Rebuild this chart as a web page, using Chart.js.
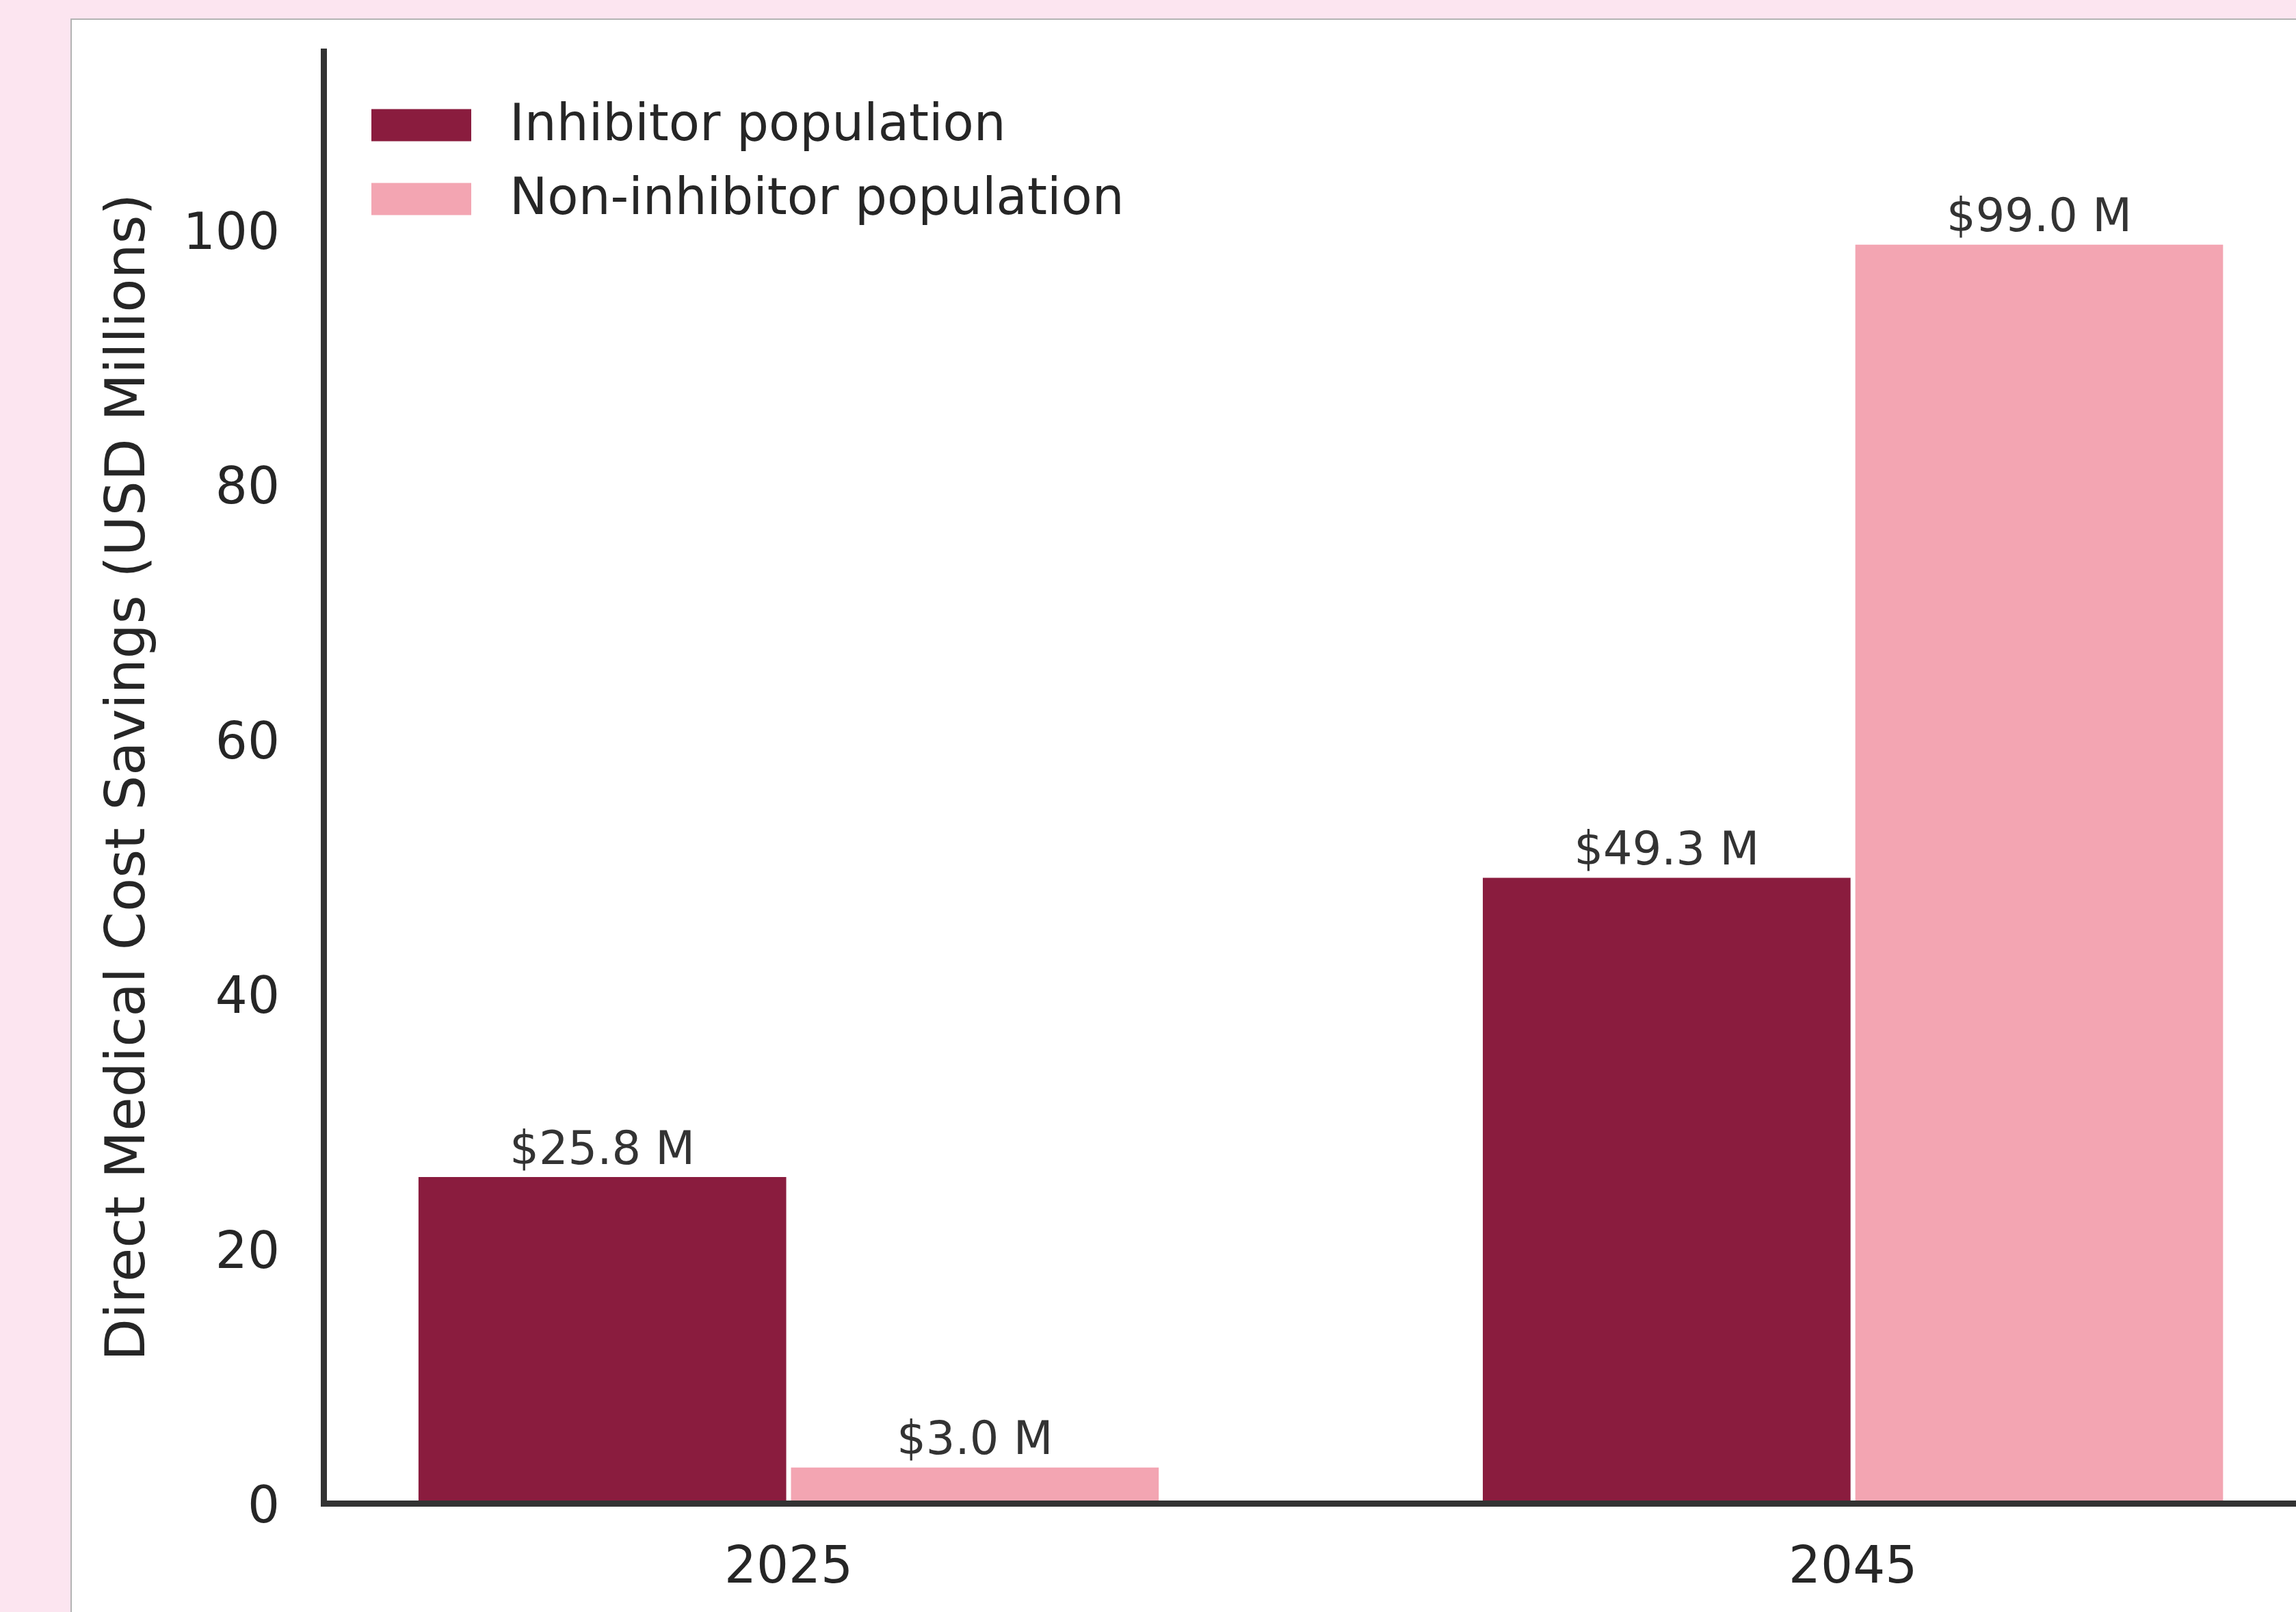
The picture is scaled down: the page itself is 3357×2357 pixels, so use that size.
<!DOCTYPE html>
<html>
<head>
<meta charset="utf-8">
<script src="https://cdn.jsdelivr.net/npm/chart.js@4/dist/chart.umd.min.js"></script>
<style>
  html, body { margin: 0; padding: 0; width: 3357px; height: 2357px; overflow: hidden; background: #fce5f0; }
  #panel { position: absolute; left: 103px; top: 27px; width: 4000px; height: 4000px; background: #ffffff; border-left: 2px solid #b3b3b3; border-top: 2px solid #b3b3b3; }
  #c { position: absolute; left: 0; top: 0; }
</style>
</head>
<body>
<div id="panel"></div>
<canvas id="c" width="3420" height="2357"></canvas>
<script>
// ---- data ----
const categories = ['2025', '2045'];
const seriesNames = ['Inhibitor population', 'Non-inhibitor population'];
const inhibitorValues = [25.8, 49.3];
const nonInhibitorValues = [3.0, 99.0];
const yTickValues = [0, 20, 40, 60, 80, 100];
const yAxisTitle = 'Direct Medical Cost Savings (USD Millions)';

// ---- styles ----
const colors = ['#8a1c3e', '#f3a5b2'];
const textColor = '#262626';
const axisColor = '#333333';
const FONT = 'DejaVu Sans';

const toPoints = (vals) => vals.map((v, i) => ({ x: i, y: v }));

const barLabelPlugin = {
  id: 'barLabels',
  afterDatasetsDraw(chart) {
    const ctx = chart.ctx;
    ctx.save();
    ctx.font = '67px "' + FONT + '"';
    ctx.fillStyle = '#333333';
    ctx.textAlign = 'center';
    ctx.textBaseline = 'alphabetic';
    chart.data.datasets.forEach((ds, di) => {
      const meta = chart.getDatasetMeta(di);
      meta.data.forEach((el, i) => {
        const v = ds.data[i].y;
        ctx.fillText('$' + v.toFixed(1) + ' M', el.x, el.y - 16);
      });
    });
    ctx.restore();
  }
};

const insideLegendPlugin = {
  id: 'insideLegend',
  afterDraw(chart) {
    const ctx = chart.ctx;
    const a = chart.chartArea;
    ctx.save();
    ctx.font = '74px "' + FONT + '"';
    ctx.textAlign = 'left';
    ctx.textBaseline = 'middle';
    chart.data.datasets.forEach((ds, i) => {
      const cy = a.top + 108 + i * 108;
      const bx = a.left + 70;
      ctx.fillStyle = ds.backgroundColor;
      ctx.fillRect(bx, cy - 23.5, 146, 47);
      ctx.fillStyle = textColor;
      ctx.fillText(ds.label, bx + 146 + 56, cy + 3);
    });
    ctx.restore();
  }
};

new Chart(document.getElementById('c'), {
  type: 'bar',
  data: {
    datasets: [
      { label: seriesNames[0], data: toPoints(inhibitorValues), backgroundColor: colors[0], borderColor: '#ffffff', borderWidth: 3.5 },
      { label: seriesNames[1], data: toPoints(nonInhibitorValues), backgroundColor: colors[1], borderColor: '#ffffff', borderWidth: 3.5 }
    ]
  },
  options: {
    responsive: false,
    animation: false,
    devicePixelRatio: 1,
    layout: { padding: { left: 142, top: 75, right: 37, bottom: 22 } },
    datasets: { bar: { categoryPercentage: 0.7, barPercentage: 1.0 } },
    plugins: { legend: { display: false }, tooltip: { enabled: false } },
    scales: {
      x: {
        type: 'linear',
        offset: false,
        min: -0.437,
        max: 1.433,
        afterBuildTicks: (scale) => { scale.ticks = categories.map((c, i) => ({ value: i })); },
        afterFit: (scale) => { scale.height = 137; scale.paddingLeft = 0; scale.paddingRight = 0; },
        grid: { display: false, drawTicks: false, offset: false },
        border: { display: true, color: axisColor, width: 9, z: 1 },
        ticks: {
          autoSkip: false, maxRotation: 0, padding: 52, color: textColor,
          font: { family: FONT, size: 74 },
          callback: (v, idx) => categories[idx]
        }
      },
      y: {
        type: 'linear',
        min: 0,
        max: 114,
        afterBuildTicks: (scale) => { scale.ticks = yTickValues.map(v => ({ value: v })); },
        afterFit: (scale) => { scale.width = 331; scale.paddingTop = 0; scale.paddingBottom = 0; },
        grid: { display: false, drawTicks: false },
        border: { display: true, color: axisColor, width: 9, z: 1 },
        ticks: {
          padding: 64, color: textColor,
          font: { family: FONT, size: 74, lineHeight: '18px' },
          callback: (v) => ['', String(v)]
        },
        title: { display: true, text: yAxisTitle, color: textColor, padding: 0, font: { family: FONT, size: 80.5 } }
      }
    }
  },
  plugins: [barLabelPlugin, insideLegendPlugin]
});
</script>
</body>
</html>
